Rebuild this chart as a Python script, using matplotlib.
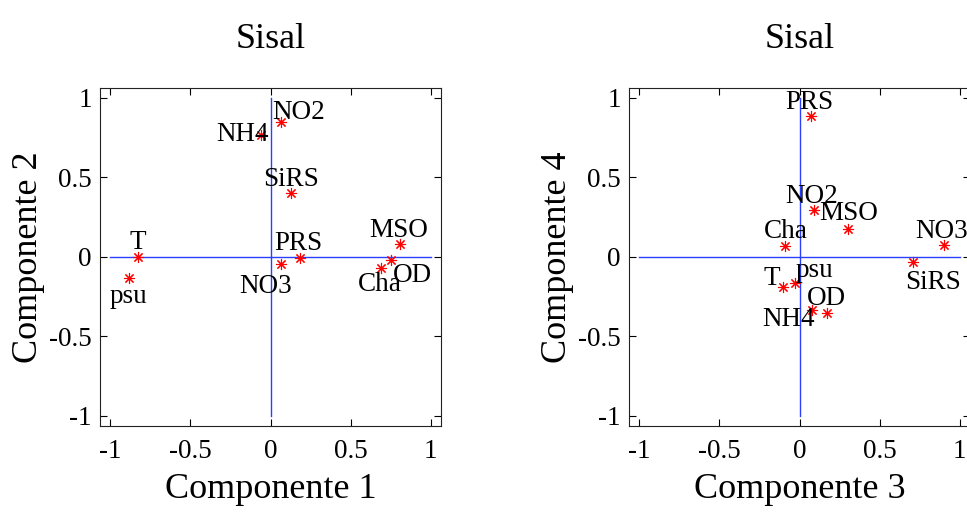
import matplotlib
matplotlib.use('Agg')
from matplotlib import pyplot as plt

plt.rcParams['font.family'] = ['Liberation Serif', 'DejaVu Serif']
plt.rcParams['axes.unicode_minus'] = False

variables = ['T', 'psu', 'NH4', 'NO2', 'NO3', 'SiRS', 'PRS', 'OD', 'MSO', 'Cha']

# cargas componentes 1 y 2
comp1 = [-0.825, -0.884, -0.058, 0.067, 0.067, 0.125, 0.185, 0.754, 0.810, 0.690]
comp2 = [0.000, -0.137, 0.764, 0.848, -0.049, 0.397, -0.011, -0.022, 0.077, -0.070]
# posicion de las etiquetas (izquierda, linea base)
lab1_x = [-0.881, -1.006, -0.340, 0.0125, -0.194, -0.048, 0.025, 0.764, 0.619, 0.546]
lab1_y = [0.045, -0.294, 0.726, 0.863, -0.231, 0.443, 0.041, -0.158, 0.125, -0.215]

# cargas componentes 3 y 4
comp3 = [-0.102, -0.025, 0.079, 0.090, 0.900, 0.708, 0.069, 0.173, 0.304, -0.088]
comp4 = [-0.190, -0.169, -0.336, 0.292, 0.072, -0.033, 0.884, -0.357, 0.173, 0.066]
lab2_x = [-0.227, -0.025, -0.230, -0.0875, 0.725, 0.6625, -0.0875, 0.044, 0.121, -0.223]
lab2_y = [-0.179, -0.127, -0.437, 0.338, 0.114, -0.206, 0.926, -0.305, 0.230, 0.114]

ticks = [-1, -0.5, 0, 0.5, 1]
tick_text = ['-1', '-0.5', '0', '0.5', '1']

fig = plt.figure(figsize=(9.67, 5.16), dpi=100)


def biplot(rect, xs, ys, lx, ly, xlab, ylab):
    ax = fig.add_axes(rect)
    ax.plot([-1, 1], [0, 0], color='#2b3fff', lw=1, zorder=1)
    ax.plot([0, 0], [-1, 1], color='#2b3fff', lw=1, zorder=1)
    ax.plot(xs, ys, ls='none', marker=(8, 2, 0), ms=8, mec='red', mew=0.8, zorder=2)
    for name, tx, ty in zip(variables, lx, ly):
        ax.text(tx, ty, name, fontsize=19.5, ha='left', va='baseline', zorder=3)
    ax.set_xlim(-1.065, 1.065)
    ax.set_ylim(-1.066, 1.06)
    ax.set_xticks(ticks, tick_text)
    ax.set_yticks(ticks, tick_text)
    for s in ax.spines.values():
        s.set_color('#222222')
    ax.tick_params(direction='in', top=True, right=True, length=5, labelsize=19.5)
    ax.tick_params(axis='x', pad=9)
    ax.tick_params(axis='y', pad=6)
    ax.set_xlabel(xlab, fontsize=26, labelpad=7)
    ax.set_ylabel(ylab, fontsize=26, labelpad=3)
    ax.set_title('Sisal', fontsize=26, pad=29)
    return ax


biplot([100 / 967, 90 / 516, 341 / 967, 338 / 516], comp1, comp2, lab1_x, lab1_y,
       'Componente 1', 'Componente 2')
biplot([629 / 967, 90 / 516, 341 / 967, 338 / 516], comp3, comp4, lab2_x, lab2_y,
       'Componente 3', 'Componente 4')

plt.savefig('out.png', dpi=100)
